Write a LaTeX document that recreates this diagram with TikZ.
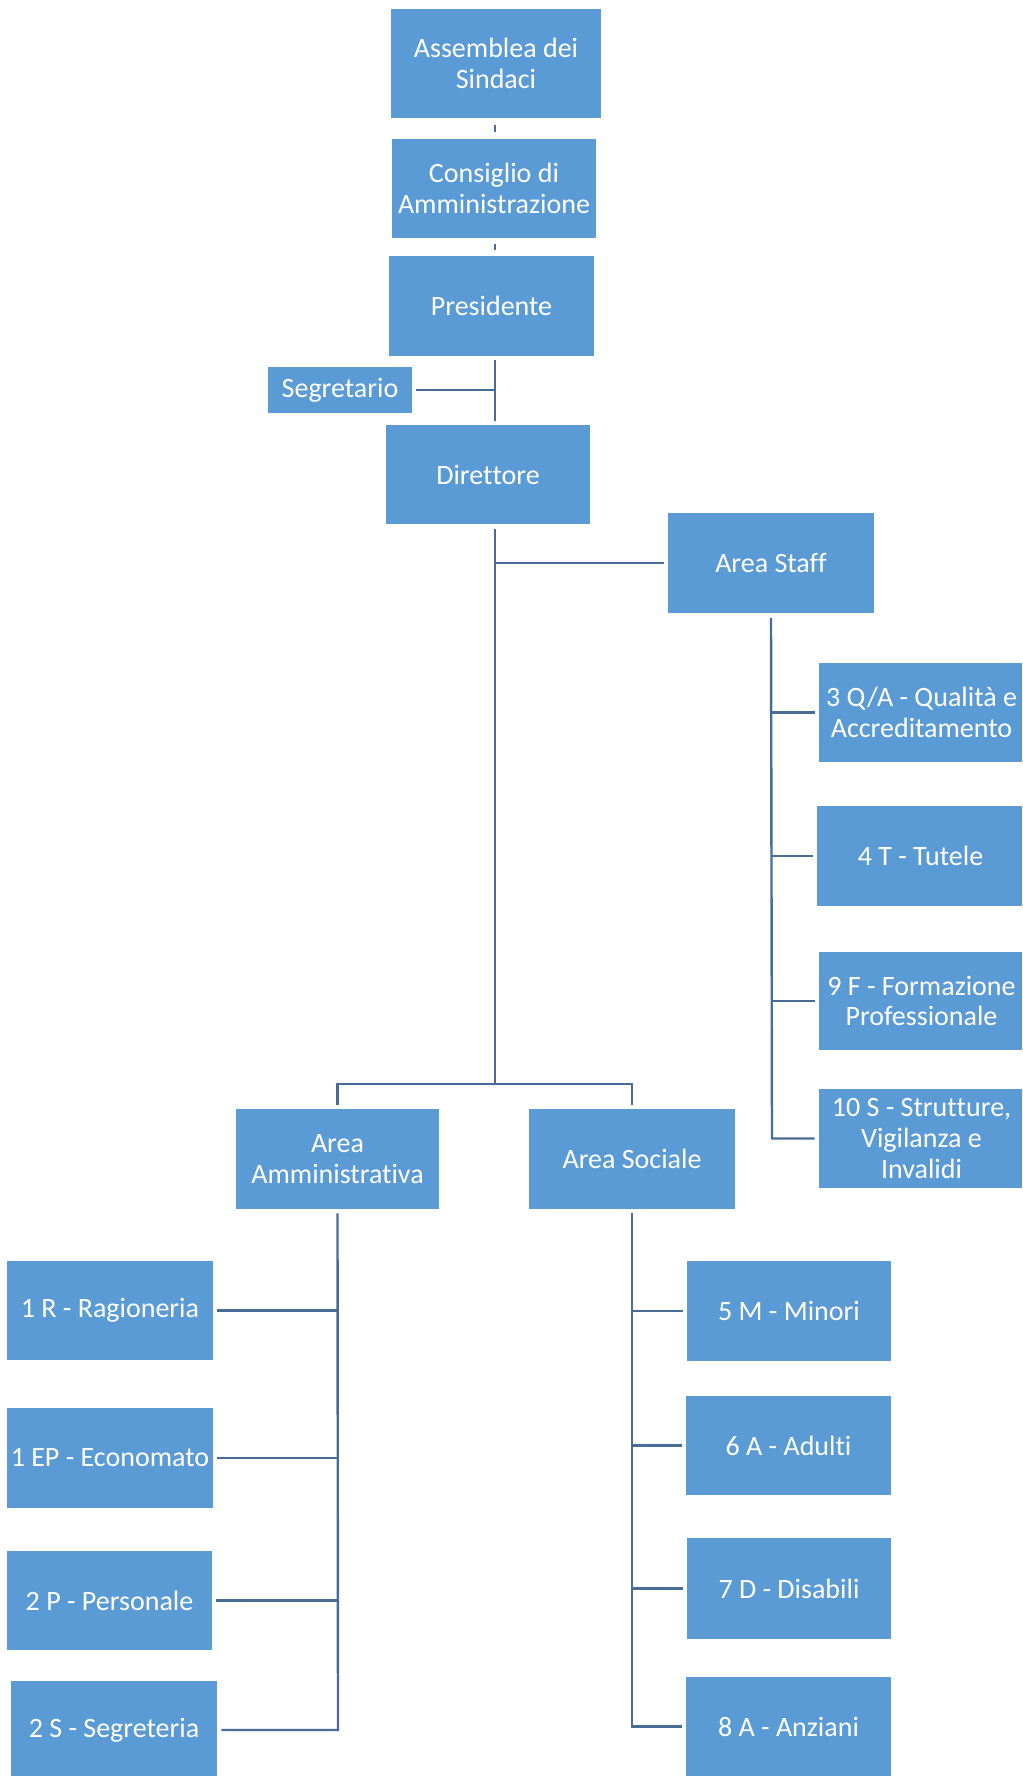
\documentclass[tikz,border=0pt]{standalone}
\usepackage{fontspec}
\setmainfont{Carlito}[Ligatures={NoCommon,NoContextual}, RawFeature={-liga,-clig,-calt,-dlig}]
\definecolor{boxblue}{RGB}{91,155,213}
\definecolor{linkblue}{RGB}{72,108,152}
\tikzset{
  orgbox/.style={rectangle, fill=boxblue, draw=none, inner sep=0pt, text=white, align=center,
    font=\fontsize{21}{23}\selectfont},
  link/.style={draw=linkblue, line width=1.8pt}
}
\newcommand\orgbx[6]{\node[orgbox, minimum width={(#4-#2)*0.75pt}, minimum height={(#5-#3)*0.75pt}] (#1) at ({(#2+#4)/2},{(#3+#5)/2}) {#6};}
\begin{document}
\begin{tikzpicture}[x=0.75pt, y=-0.75pt]
\clip (0,0) rectangle (1022,1776);
\fill[white] (0,0) rectangle (1022,1776);
% top chain
\orgbx{ass}{391}{9}{601}{118}{Assemblea dei\\Sindaci}
\orgbx{cda}{392}{139}{596}{238}{Consiglio di\\Amministrazione}
\orgbx{pres}{389}{256}{594}{356}{Presidente}
\orgbx{seg}{268}{367}{412}{413}{Segretario}
\orgbx{dir}{386}{425}{590}{524}{Diret\kern0pt tore}
% staff
\orgbx{staff}{668}{513}{874}{613}{Area Staf\kern0pt f}
\orgbx{qa}{819}{663}{1024}{762}{3 Q/A - Qualità e\\Accreditamento}
\orgbx{tut}{817}{806}{1024}{906}{4 T - Tutele}
\orgbx{form}{819}{952}{1024}{1050}{9 F - Formazione\\Professionale}
\orgbx{strut}{819}{1089}{1024}{1188}{10 S - Strut\kern0pt ture,\\Vigilanza e\\Invalidi}
% areas
\orgbx{amm}{236}{1109}{439}{1209}{Area\\Amministrativa}
\orgbx{soc}{529}{1109}{735}{1209}{Area Sociale}
% left children
\orgbx{rag}{7}{1261}{213}{1360}{1 R - Ragioneria}
\orgbx{eco}{7}{1408}{213}{1508}{1 EP - Economato}
\orgbx{pers}{7}{1551}{212}{1650}{2 P - Personale}
\orgbx{segr}{11}{1681}{217}{1779}{2 S - Segreteria}
% right children
\orgbx{min}{687}{1261}{891}{1361}{5 M - Minori}
\orgbx{adu}{686}{1396}{891}{1495}{6 A - Adulti}
\orgbx{dis}{687}{1538}{891}{1639}{7 D - Disabili}
\orgbx{anz}{686}{1677}{891}{1776}{8 A - Anziani}

% spines
\coordinate (spine) at (495,0);
\coordinate (bus) at (0,1084);
\coordinate (sspine) at (772,0);
\coordinate (aspine) at (338,0);
\coordinate (cspine) at (632,0);

% top chain connectors
\draw[link] ([yshift=-5pt]ass.south -| spine) -- ([yshift=5pt]cda.north -| spine);
\draw[link] ([yshift=-4pt]cda.south -| spine) -- ([yshift=4pt]pres.north -| spine);
\draw[link] ([yshift=-3pt]pres.south -| spine) -- ([yshift=3pt]dir.north -| spine);
\draw[link] ([xshift=3pt]seg.east) -- (seg.east -| spine);
% director to staff and areas
\draw[link] ([yshift=-3.5pt]dir.south -| spine) -- (bus -| spine);
\draw[link] (staff.west -| spine) -- ([xshift=-3pt]staff.west);
\draw[link] ([yshift=3pt]amm.north) -- (amm.north |- bus) -- (soc.north |- bus) -- ([yshift=3pt]soc.north);
% staff children
\draw[link] ([yshift=-3.5pt]staff.south) -- (strut.west -| sspine) -- ([xshift=-3pt]strut.west);
\foreach \c in {qa,tut,form}
  \draw[link] (\c.west -| sspine) -- ([xshift=-3pt]\c.west);
% administrative children
\draw[link] ([yshift=-3pt]amm.south) -- (segr.east -| aspine) -- ([xshift=3pt]segr.east);
\foreach \c in {rag,eco,pers}
  \draw[link] (\c.east -| aspine) -- ([xshift=3pt]\c.east);
% social children
\draw[link] ([yshift=-3pt]soc.south) -- (anz.west -| cspine) -- ([xshift=-3pt]anz.west);
\foreach \c in {min,adu,dis}
  \draw[link] (\c.west -| cspine) -- ([xshift=-3pt]\c.west);
\end{tikzpicture}
\end{document}
